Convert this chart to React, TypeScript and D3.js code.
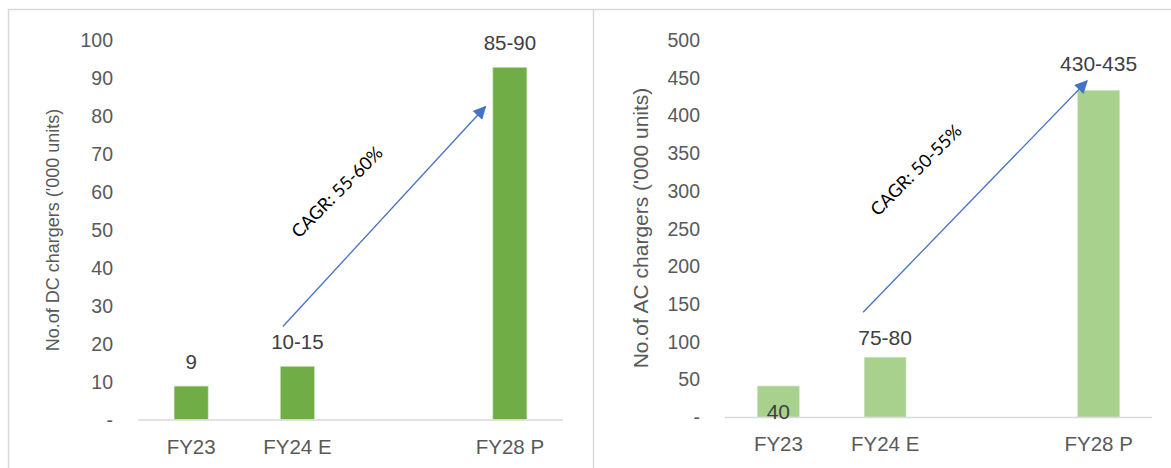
import React from "react";
import * as d3 from "d3";

const categories = ["FY23", "FY24 E", "", "FY28 P"];
const dcValues = [8.8, 14.0, null, 92.8];
const dcLabels = ["9", "10-15", "", "85-90"];
const acValues = [41, 79, null, 433];
const acLabels = ["40", "75-80", "", "430-435"];
const dcTicks = [0, 10, 20, 30, 40, 50, 60, 70, 80, 90, 100];
const acTicks = [0, 50, 100, 150, 200, 250, 300, 350, 400, 450, 500];

const W = 1171;
const H = 468;

type ChartProps = {
  values: (number | null)[];
  labels: string[];
  ticks: number[];
  yMax: number;
  x0: number;
  x1: number;
  yBase: number;
  yTop: number;
  tickX: number;
  titleX: number;
  titleY: number;
  title: string;
  titleSize: number;
  color: string;
  barFrac: number;
  labelSize: number;
  labelGap: number[];
  insideBaseIdx: number;
  arrowFrom: [string, number, number];
  arrowTo: [string, number, number];
  cagr: string;
  cagrPos: [number, number];
  markerId: string;
};

const FONT = "Liberation Sans, Arial, sans-serif";

function Chart(p: ChartProps) {
  const x = d3.scaleBand<string>().domain(categories).range([p.x0, p.x1]).padding(0);
  const y = d3.scaleLinear().domain([0, p.yMax]).range([p.yBase, p.yTop]);
  const bw = x.bandwidth() * p.barFrac;
  const cx = (c: string) => (x(c) as number) + x.bandwidth() / 2;
  const ax1 = cx(p.arrowFrom[0]) + p.arrowFrom[2];
  const ay1 = y(p.arrowFrom[1]);
  const ax2 = cx(p.arrowTo[0]) + p.arrowTo[2];
  const ay2 = y(p.arrowTo[1]);
  return (
    <g>
      <defs>
        <marker id={p.markerId} viewBox="0 0 10 10" refX="9" refY="5" markerWidth="16" markerHeight="13" markerUnits="userSpaceOnUse" orient="auto">
          <path d="M0,0 L10,5 L0,10 z" fill="#4472c4" />
        </marker>
      </defs>
      {p.ticks.map((t) => (
        <text key={t} x={p.tickX} y={y(t)} dy="0.36em" textAnchor="end" fontSize={19.5} fill="#595959" fontFamily={FONT}>
          {t === 0 ? "-" : t}
        </text>
      ))}
      <text transform={`translate(${p.titleX},${p.titleY}) rotate(-90)`} textAnchor="middle" dy="0.36em" fontSize={p.titleSize} fill="#595959" fontFamily={FONT}>
        {p.title}
      </text>
      {categories.map((c, i) => {
        const v = p.values[i];
        if (v == null) return null;
        return (
          <rect key={c} x={cx(c) - bw / 2} y={y(v)} width={bw} height={y(0) - y(v)} fill={p.color} stroke="#c5e0b4" strokeWidth={0.6} />
        );
      })}
      <line x1={p.x0} x2={p.x1} y1={p.yBase + 0.5} y2={p.yBase + 0.5} stroke="#d9d9d9" strokeWidth={1.5} />
      {categories.map((c) =>
        c ? (
          <text key={c} x={cx(c)} y={p.yBase + 34} textAnchor="middle" fontSize={20.5} fill="#595959" fontFamily={FONT}>
            {c}
          </text>
        ) : null
      )}
      {categories.map((c, i) => {
        const v = p.values[i];
        if (v == null) return null;
        const ly = i === p.insideBaseIdx ? p.yBase + 2 : y(v) - p.labelGap[i];
        return (
          <text key={c} x={cx(c)} y={ly} textAnchor="middle" fontSize={p.labelSize} fill="#404040" fontFamily={FONT}>
            {p.labels[i]}
          </text>
        );
      })}
      <line x1={ax1} y1={ay1} x2={ax2} y2={ay2} stroke="#4472c4" strokeWidth={1.3} markerEnd={`url(#${p.markerId})`} />
      <text transform={`translate(${p.cagrPos[0]},${p.cagrPos[1]}) rotate(-45)`} textAnchor="middle" dy="0.35em" fontSize={18} fill="#000" fontFamily="Lato, Open Sans, sans-serif">
        {p.cagr}
      </text>
    </g>
  );
}

export default function App() {
  return (
    <svg width={W} height={H} style={{ position: "absolute", left: 0, top: 0, background: "#fff" }}>
      <rect x={0} y={0} width={W} height={H} fill="#fff" />
      <line x1={8.5} x2={8.5} y1={9} y2={H} stroke="#d9d9d9" strokeWidth={1.5} />
      <line x1={8} x2={W} y1={9.5} y2={9.5} stroke="#d9d9d9" strokeWidth={1.5} />
      <line x1={593.5} x2={593.5} y1={9} y2={H} stroke="#d9d9d9" strokeWidth={1.5} />
      <Chart
        values={dcValues}
        labels={dcLabels}
        ticks={dcTicks}
        yMax={100}
        x0={138}
        x1={563}
        yBase={419.5}
        yTop={40}
        tickX={113}
        titleX={53}
        titleY={230}
        title="No.of DC chargers ('000 units)"
        titleSize={18}
        color="#70ad47"
        barFrac={0.32}
        labelSize={20.5}
        labelGap={[17, 17, 17, 17]}
        insideBaseIdx={-1}
        arrowFrom={["FY24 E", 24.5, -14.5]}
        arrowTo={["FY28 P", 82.4, -24.5]}
        cagr="CAGR: 55-60%"
        cagrPos={[337, 192]}
        markerId="arrL"
      />
      <Chart
        values={acValues}
        labels={acLabels}
        ticks={acTicks}
        yMax={500}
        x0={725}
        x1={1152}
        yBase={417}
        yTop={40}
        tickX={700}
        titleX={640}
        titleY={228}
        title="No.of AC chargers ('000 units)"
        titleSize={21}
        color="#a9d18e"
        barFrac={0.39}
        labelSize={21}
        labelGap={[17, 12, 17, 20]}
        insideBaseIdx={0}
        arrowFrom={["FY24 E", 139, -22]}
        arrowTo={["FY28 P", 445.6, -11.6]}
        cagr="CAGR: 50-55%"
        cagrPos={[916, 170]}
        markerId="arrR"
      />
    </svg>
  );
}
